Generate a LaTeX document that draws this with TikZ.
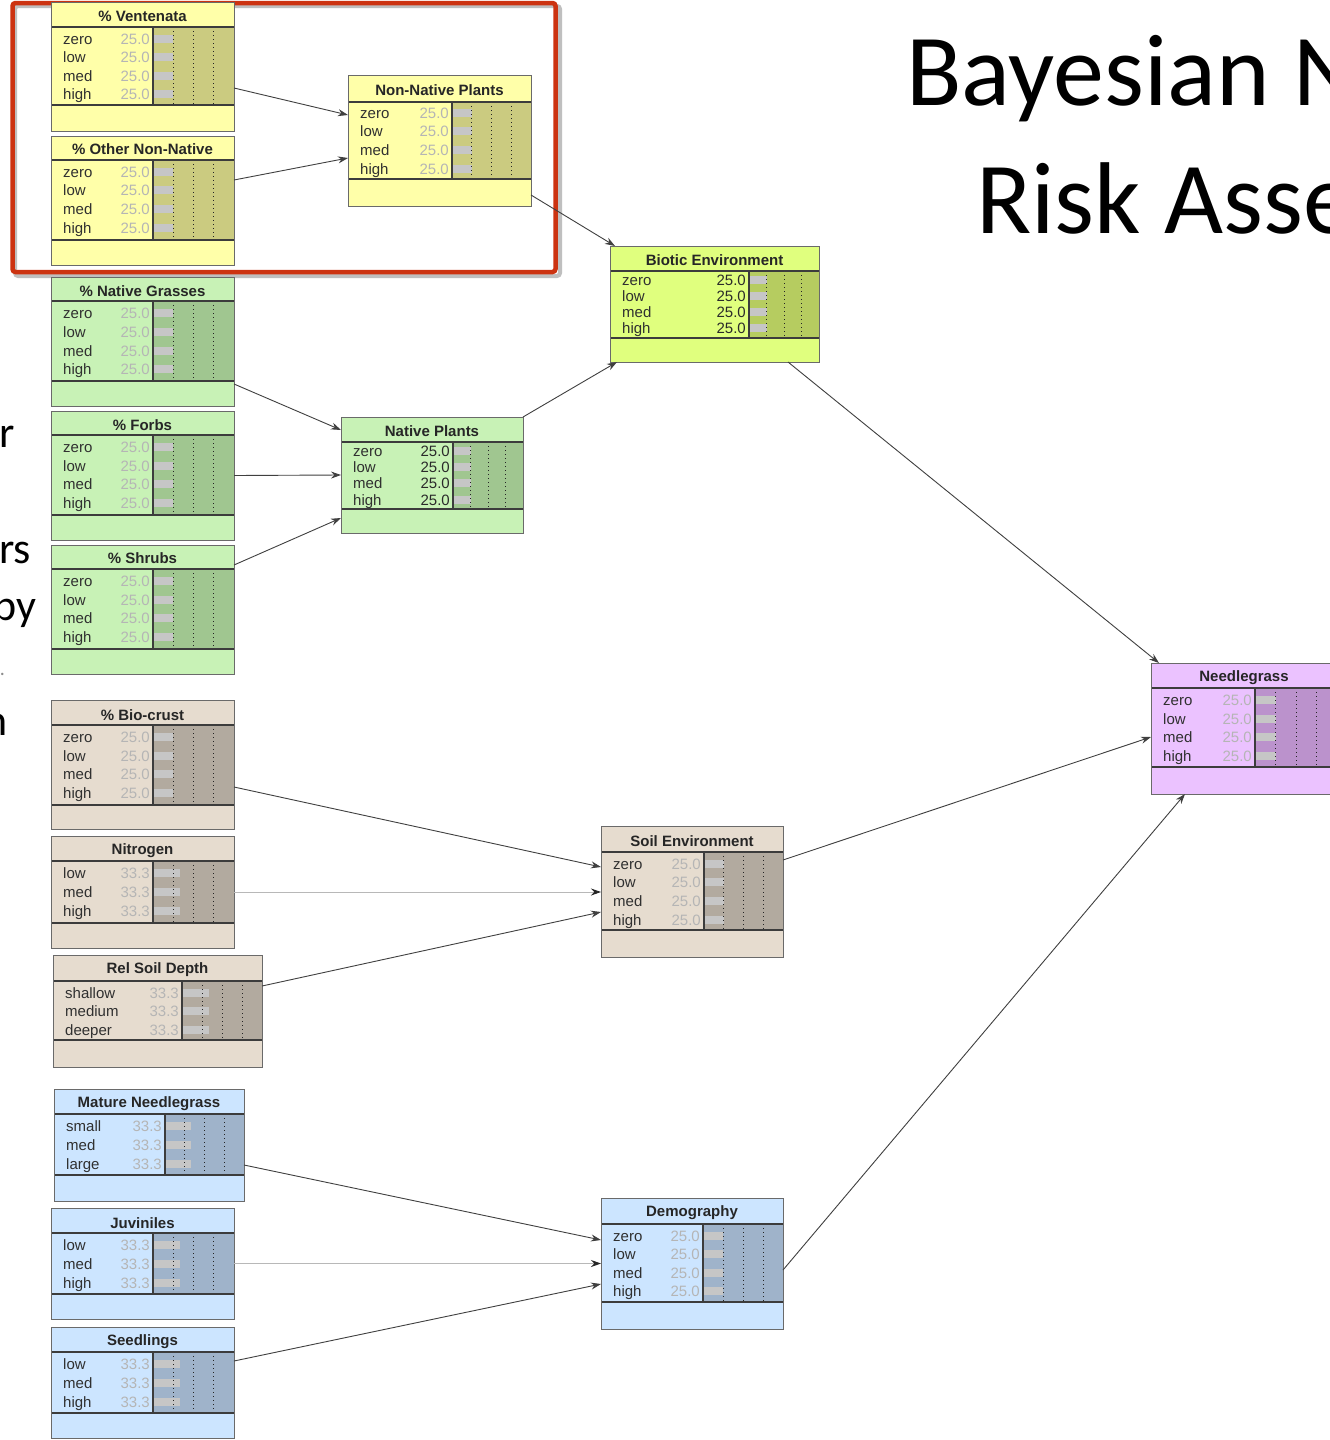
\documentclass[tikz,border=0pt]{standalone}
\usepackage{fontspec}
\setmainfont{Liberation Sans}
\newfontfamily\slidefont{Carlito}
\usetikzlibrary{arrows.meta}
\definecolor{yelL}{HTML}{FFFFA9}\definecolor{yelD}{HTML}{CBCB80}
\definecolor{grnL}{HTML}{C8F2B6}\definecolor{grnD}{HTML}{A0C690}
\definecolor{bioL}{HTML}{E0FF7E}\definecolor{bioD}{HTML}{B6CC60}
\definecolor{tanL}{HTML}{E6DCCF}\definecolor{tanD}{HTML}{B2AA9F}
\definecolor{bluL}{HTML}{CCE5FF}\definecolor{bluD}{HTML}{9FB3CA}
\definecolor{pnkL}{HTML}{EBC2FF}\definecolor{pnkD}{HTML}{BB92CC}
\definecolor{ghost}{HTML}{B5B5B5}
\definecolor{solid}{HTML}{2A2A2A}
\definecolor{lbl}{HTML}{303030}
\definecolor{bargray}{HTML}{C6C6C6}
\definecolor{boxline}{HTML}{6A6A6A}
\definecolor{secline}{HTML}{3C3C3C}
\definecolor{redframe}{HTML}{CC3311}
\tikzset{
  statefont/.style={inner sep=0pt, text=lbl, font=\fontsize{15}{15}\selectfont},
  titlefont/.style={inner sep=0pt, text=black!85, font=\bfseries\fontsize{15}{15}\selectfont},
  dotline/.style={draw=black!85, line width=1pt, dash pattern=on 1.3pt off 2.7pt},
  sepline/.style={draw=secline, line width=1.2pt},
  conn/.style={draw=black!75, line width=0.9pt, -{Stealth[length=10pt,width=7pt]}},
  faint/.style={draw=black!28, line width=0.9pt, -{Stealth[length=10pt,width=7pt,color=black!85]}},
  slide/.style={inner sep=0pt, text=black, font=\slidefont\fontsize{44}{44}\selectfont},
}
\newcounter{bnr}
\newcommand\bnframe[9]{%
  \fill[#9L] (#2,#3) rectangle (#4,#5);
  \fill[#9D] (#8,#6) rectangle (#4,#7);
  \def\bnXa{#2}\def\bnYa{#3}\def\bnXb{#4}\def\bnYb{#5}%
  \def\bnTl{#6}\def\bnSb{#7}\def\bnXc{#8}%
}
\newcommand\bnrow[4]{%
  \stepcounter{bnr}%
  \pgfmathsetmacro\bnbarend{\bnXc+#4*(\bnXb-\bnXc)}%
  \fill[bargray] (\bnXc+0.6,#1-4) rectangle (\bnbarend,#1+4);
  \node[statefont, anchor=mid west] (lab\arabic{bnr}) at (\bnXa+12,#1+3) {#2};
  \node[statefont, anchor=mid east, text=\bnVal] (val\arabic{bnr}) at (\bnXc-3,#1+3) {#3};
}
\newcommand\bnclose[3]{%
  \pgfmathsetmacro\bnq{(\bnXb-\bnXc)/4}%
  \foreach \k in {1,2,3}{\draw[dotline] (\bnXc+\k*\bnq,\bnTl) -- (\bnXc+\k*\bnq,\bnSb);}
  \draw[sepline] (\bnXa,\bnTl) -- (\bnXb,\bnTl);
  \draw[sepline] (\bnXa,\bnSb) -- (\bnXb,\bnSb);
  \draw[sepline] (\bnXc,\bnTl) -- (\bnXc,\bnSb);
  \pgfmathsetmacro\bncx{(\bnXa+\bnXb)/2}%
  \pgfmathsetmacro\bncy{(\bnYa+\bnYb)/2}%
  \pgfmathsetmacro\bnw{\bnXb-\bnXa}%
  \pgfmathsetmacro\bnh{\bnYb-\bnYa}%
  \node[draw=boxline, line width=1pt, inner sep=0pt, outer sep=0pt,
        minimum width=\bnw pt, minimum height=\bnh pt] (#1) at (\bncx,\bncy) {};
  \node[titlefont] (#1-title) at (\bncx,#2+1) {#3};
}
\begin{document}
\begin{tikzpicture}[x=1pt,y=-1pt]
\useasboundingbox (0,0) rectangle (1330,1440);
\fill[white] (0,0) rectangle (1330,1440);
\clip (0,0) rectangle (1330,1440);

% slide text
\node[inner sep=0pt, anchor=base west, font=\slidefont\fontsize{102}{102}\selectfont] (title1) at (906,105) {Bayesian N};
\node[inner sep=0pt, anchor=base west, font=\slidefont\fontsize{102}{102}\selectfont] (title2) at (976,233) {Risk Asse};
\node[slide, anchor=base west] (frag1) at (-1,447) {r};
\node[slide, anchor=base west] (frag2) at (-1,563) {rs};
\node[slide, anchor=base east] (frag3) at (37,620) {by};
\node[slide, anchor=base east, text=black!45, font=\slidefont\fontsize{20}{20}\selectfont] (frag4) at (5,675) {.};
\node[slide, anchor=base east] (frag5) at (8,735) {n};

% red highlight frame
\draw[black!25, line width=4pt, rounded corners=3pt] (15,6) rectangle (560,276);
\draw[redframe, line width=4.5pt, rounded corners=3pt] (12.5,3) rectangle (555.5,272);

% ---- nodes ----
\def\bnVal{ghost}
\bnframe{vent}{51}{2}{234}{131}{27}{105}{153}{yel}
\bnrow{39}{zero}{25.0}{0.25}\bnrow{57}{low}{25.0}{0.25}\bnrow{76}{med}{25.0}{0.25}\bnrow{94}{high}{25.0}{0.25}
\bnclose{vent}{15}{\% Ventenata}

\bnframe{other}{51}{136}{234}{265}{160}{240}{153}{yel}
\bnrow{172}{zero}{25.0}{0.25}\bnrow{190}{low}{25.0}{0.25}\bnrow{209}{med}{25.0}{0.25}\bnrow{228}{high}{25.0}{0.25}
\bnclose{other}{148}{\% Other Non-Native}

\bnframe{grass}{51}{277}{234}{406}{301}{381}{153}{grn}
\bnrow{313}{zero}{25.0}{0.25}\bnrow{332}{low}{25.0}{0.25}\bnrow{351}{med}{25.0}{0.25}\bnrow{369}{high}{25.0}{0.25}
\bnclose{grass}{290}{\% Native Grasses}

\bnframe{forbs}{51}{411}{234}{540}{435}{515}{153}{grn}
\bnrow{447}{zero}{25.0}{0.25}\bnrow{466}{low}{25.0}{0.25}\bnrow{484}{med}{25.0}{0.25}\bnrow{503}{high}{25.0}{0.25}
\bnclose{forbs}{424}{\% Forbs}

\bnframe{shrubs}{51}{545}{234}{674}{569}{649}{153}{grn}
\bnrow{581}{zero}{25.0}{0.25}\bnrow{600}{low}{25.0}{0.25}\bnrow{618}{med}{25.0}{0.25}\bnrow{637}{high}{25.0}{0.25}
\bnclose{shrubs}{557}{\% Shrubs}

\bnframe{crust}{51}{700}{234}{829}{725}{805}{153}{tan}
\bnrow{737}{zero}{25.0}{0.25}\bnrow{756}{low}{25.0}{0.25}\bnrow{774}{med}{25.0}{0.25}\bnrow{793}{high}{25.0}{0.25}
\bnclose{crust}{714}{\% Bio-crust}

\bnframe{nitro}{51}{836}{234}{948}{861}{923}{153}{tan}
\bnrow{873}{low}{33.3}{0.333}\bnrow{892}{med}{33.3}{0.333}\bnrow{911}{high}{33.3}{0.333}
\bnclose{nitro}{850}{Nitrogen}

\bnframe{depth}{53}{955}{262}{1067}{981}{1040}{182}{tan}
\bnrow{993}{shallow}{33.3}{0.333}\bnrow{1011}{medium}{33.3}{0.333}\bnrow{1030}{deeper}{33.3}{0.333}
\bnclose{depth}{969}{Rel Soil Depth}

\bnframe{mature}{54}{1089}{244}{1201}{1114}{1175}{165}{blu}
\bnrow{1126}{small}{33.3}{0.333}\bnrow{1145}{med}{33.3}{0.333}\bnrow{1164}{large}{33.3}{0.333}
\bnclose{mature}{1103}{Mature Needlegrass}

\bnframe{juv}{51}{1208}{234}{1319}{1233}{1294}{153}{blu}
\bnrow{1245}{low}{33.3}{0.333}\bnrow{1264}{med}{33.3}{0.333}\bnrow{1283}{high}{33.3}{0.333}
\bnclose{juv}{1222}{Juviniles}

\bnframe{seed}{51}{1327}{234}{1438}{1352}{1413}{153}{blu}
\bnrow{1364}{low}{33.3}{0.333}\bnrow{1383}{med}{33.3}{0.333}\bnrow{1402}{high}{33.3}{0.333}
\bnclose{seed}{1341}{Seedlings}

\bnframe{nnp}{348}{75}{531}{206}{102}{179}{452}{yel}
\bnrow{113}{zero}{25.0}{0.25}\bnrow{131}{low}{25.0}{0.25}\bnrow{150}{med}{25.0}{0.25}\bnrow{169}{high}{25.0}{0.25}
\bnclose{nnp}{89}{Non-Native Plants}

\def\bnVal{solid}
\bnframe{np}{341}{417}{523}{533}{442}{509}{453}{grn}
\bnrow{451}{zero}{25.0}{0.25}\bnrow{467}{low}{25.0}{0.25}\bnrow{483}{med}{25.0}{0.25}\bnrow{500}{high}{25.0}{0.25}
\bnclose{np}{430}{Native Plants}

\bnframe{biotic}{610}{246}{819}{362}{271}{338}{749}{bio}
\bnrow{280}{zero}{25.0}{0.25}\bnrow{296}{low}{25.0}{0.25}\bnrow{312}{med}{25.0}{0.25}\bnrow{328}{high}{25.0}{0.25}
\bnclose{biotic}{259}{Biotic Environment}

\def\bnVal{ghost}
\bnframe{soil}{601}{826}{783}{957}{852}{930}{704}{tan}
\bnrow{864}{zero}{25.0}{0.25}\bnrow{882}{low}{25.0}{0.25}\bnrow{901}{med}{25.0}{0.25}\bnrow{920}{high}{25.0}{0.25}
\bnclose{soil}{840}{Soil Environment}

\bnframe{demo}{601}{1198}{783}{1329}{1224}{1302}{703}{blu}
\bnrow{1236}{zero}{25.0}{0.25}\bnrow{1254}{low}{25.0}{0.25}\bnrow{1273}{med}{25.0}{0.25}\bnrow{1291}{high}{25.0}{0.25}
\bnclose{demo}{1212}{Demography}

\bnframe{needle}{1151}{663}{1337}{794}{688}{767}{1255}{pnk}
\bnrow{700}{zero}{25.0}{0.25}\bnrow{719}{low}{25.0}{0.25}\bnrow{737}{med}{25.0}{0.25}\bnrow{756}{high}{25.0}{0.25}
\bnclose{needle}{677}{Needlegrass}

% ---- connectors ----
\draw[conn] ([yshift=-21.5pt]vent.east) -- ([yshift=25.5pt]nnp.west);
\draw[conn] ([yshift=20.5pt]other.east) -- ([yshift=-17.5pt]nnp.west);
\draw[conn] ([yshift=-54.5pt]nnp.east) -- ([xshift=5pt]biotic.north west);
\draw[conn] ([yshift=-42.5pt]grass.east) -- ([yshift=45pt]np.west);
\draw[conn] (forbs.east) -- (np.west);
\draw[conn] ([yshift=44.5pt]shrubs.east) -- ([yshift=-43pt]np.west);
\draw[conn] (np.north east) -- ([xshift=7pt]biotic.south west);
\draw[conn] ([xshift=-31pt]biotic.south east) -- ([xshift=8pt]needle.north west);
\draw[conn] ([yshift=-22.5pt]crust.east) -- ([yshift=24.5pt]soil.west);
\draw[faint] (nitro.east) -- (nitro.east -| soil.west);
\draw[conn] ([yshift=25pt]depth.east) -- ([yshift=-20.5pt]soil.west);
\draw[conn] ([yshift=31.5pt]soil.east) -- ([yshift=-8.5pt]needle.west);
\draw[conn] ([yshift=-20pt]mature.east) -- ([yshift=23.5pt]demo.west);
\draw[faint] (juv.east) -- (juv.east -| demo.west);
\draw[conn] ([yshift=21.5pt]seed.east) -- ([yshift=-20.5pt]demo.west);
\draw[conn] ([yshift=-6.5pt]demo.east) -- ([xshift=34pt]needle.south west);
\end{tikzpicture}
\end{document}
